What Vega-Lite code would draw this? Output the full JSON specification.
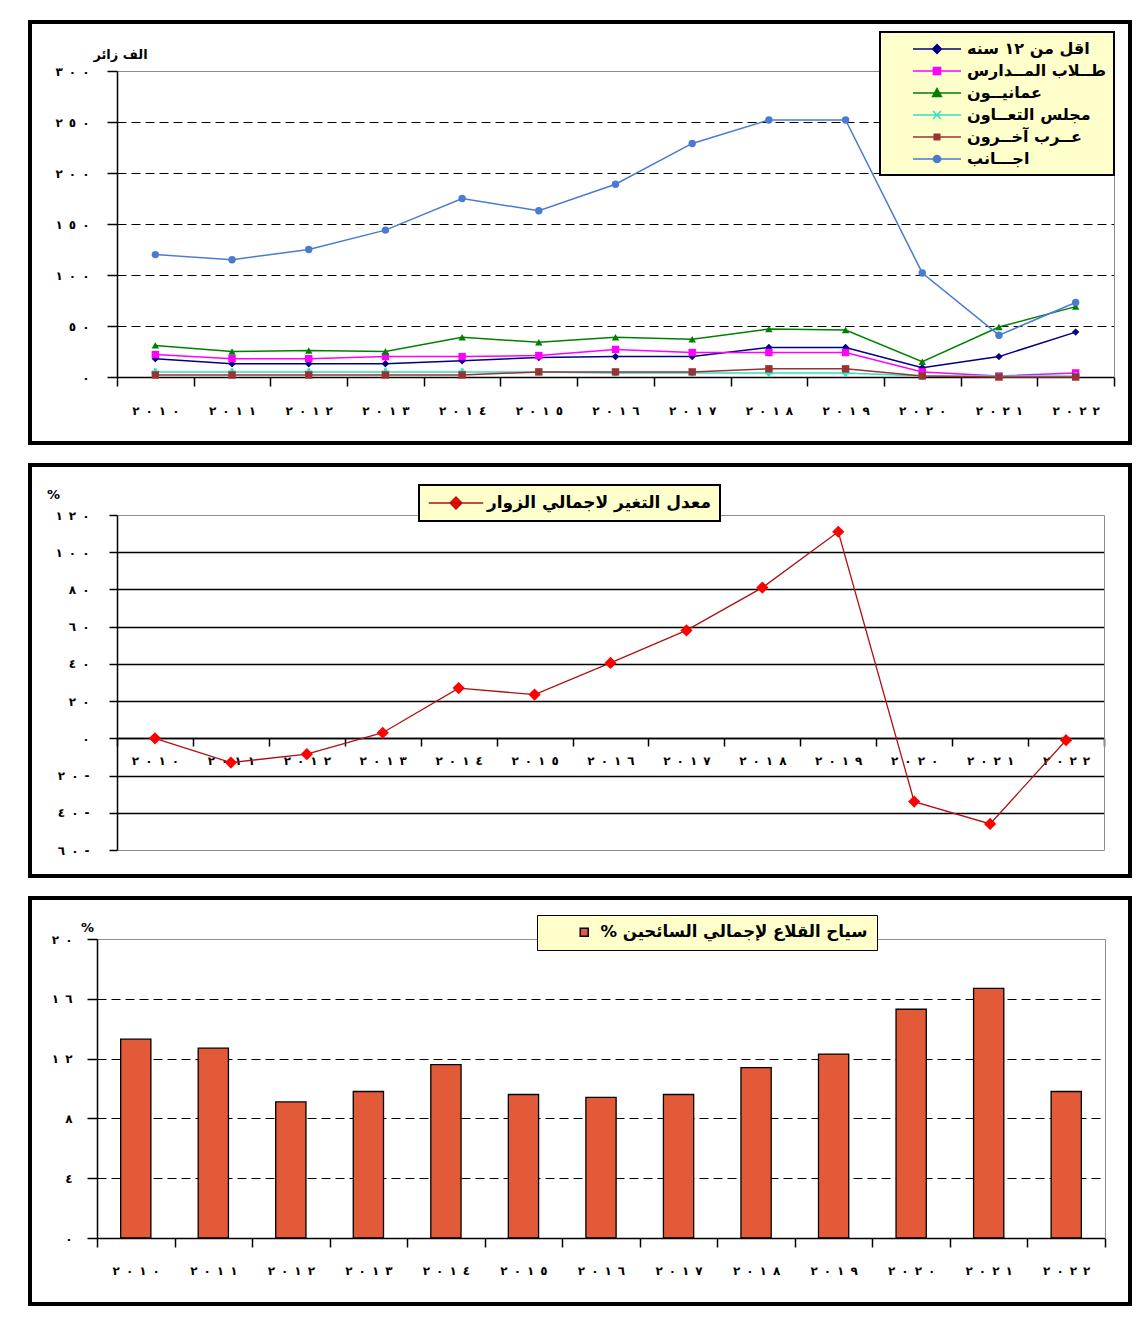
{
  "$schema": "https://vega.github.io/schema/vega-lite/v6.json",
  "padding": {"left": 28, "top": 20, "right": 5, "bottom": 5},
  "background": "white",
  "bounds": "flush",
  "spacing": 22,
  "resolve": {"scale": {"color": "independent"}, "legend": {"color": "independent"}},
  "datasets": {
    "visitors": [
      {"year": "٢٠١٠", "series": "اقل من ١٢ سنه", "value": 18},
      {"year": "٢٠١١", "series": "اقل من ١٢ سنه", "value": 13},
      {"year": "٢٠١٢", "series": "اقل من ١٢ سنه", "value": 13},
      {"year": "٢٠١٣", "series": "اقل من ١٢ سنه", "value": 13},
      {"year": "٢٠١٤", "series": "اقل من ١٢ سنه", "value": 16},
      {"year": "٢٠١٥", "series": "اقل من ١٢ سنه", "value": 19},
      {"year": "٢٠١٦", "series": "اقل من ١٢ سنه", "value": 20},
      {"year": "٢٠١٧", "series": "اقل من ١٢ سنه", "value": 20},
      {"year": "٢٠١٨", "series": "اقل من ١٢ سنه", "value": 29},
      {"year": "٢٠١٩", "series": "اقل من ١٢ سنه", "value": 29},
      {"year": "٢٠٢٠", "series": "اقل من ١٢ سنه", "value": 9},
      {"year": "٢٠٢١", "series": "اقل من ١٢ سنه", "value": 20},
      {"year": "٢٠٢٢", "series": "اقل من ١٢ سنه", "value": 44},
      {"year": "٢٠١٠", "series": "طــلاب المــدارس", "value": 22},
      {"year": "٢٠١١", "series": "طــلاب المــدارس", "value": 18},
      {"year": "٢٠١٢", "series": "طــلاب المــدارس", "value": 18},
      {"year": "٢٠١٣", "series": "طــلاب المــدارس", "value": 20},
      {"year": "٢٠١٤", "series": "طــلاب المــدارس", "value": 20},
      {"year": "٢٠١٥", "series": "طــلاب المــدارس", "value": 21},
      {"year": "٢٠١٦", "series": "طــلاب المــدارس", "value": 27},
      {"year": "٢٠١٧", "series": "طــلاب المــدارس", "value": 24},
      {"year": "٢٠١٨", "series": "طــلاب المــدارس", "value": 24},
      {"year": "٢٠١٩", "series": "طــلاب المــدارس", "value": 24},
      {"year": "٢٠٢٠", "series": "طــلاب المــدارس", "value": 5},
      {"year": "٢٠٢١", "series": "طــلاب المــدارس", "value": 1},
      {"year": "٢٠٢٢", "series": "طــلاب المــدارس", "value": 4},
      {"year": "٢٠١٠", "series": "عمانيــون", "value": 31},
      {"year": "٢٠١١", "series": "عمانيــون", "value": 25},
      {"year": "٢٠١٢", "series": "عمانيــون", "value": 26},
      {"year": "٢٠١٣", "series": "عمانيــون", "value": 25},
      {"year": "٢٠١٤", "series": "عمانيــون", "value": 39},
      {"year": "٢٠١٥", "series": "عمانيــون", "value": 34},
      {"year": "٢٠١٦", "series": "عمانيــون", "value": 39},
      {"year": "٢٠١٧", "series": "عمانيــون", "value": 37},
      {"year": "٢٠١٨", "series": "عمانيــون", "value": 47},
      {"year": "٢٠١٩", "series": "عمانيــون", "value": 46},
      {"year": "٢٠٢٠", "series": "عمانيــون", "value": 15},
      {"year": "٢٠٢١", "series": "عمانيــون", "value": 49},
      {"year": "٢٠٢٢", "series": "عمانيــون", "value": 69},
      {"year": "٢٠١٠", "series": "مجلس التعــاون", "value": 5},
      {"year": "٢٠١١", "series": "مجلس التعــاون", "value": 5},
      {"year": "٢٠١٢", "series": "مجلس التعــاون", "value": 5},
      {"year": "٢٠١٣", "series": "مجلس التعــاون", "value": 5},
      {"year": "٢٠١٤", "series": "مجلس التعــاون", "value": 5},
      {"year": "٢٠١٥", "series": "مجلس التعــاون", "value": 5},
      {"year": "٢٠١٦", "series": "مجلس التعــاون", "value": 4},
      {"year": "٢٠١٧", "series": "مجلس التعــاون", "value": 4},
      {"year": "٢٠١٨", "series": "مجلس التعــاون", "value": 4},
      {"year": "٢٠١٩", "series": "مجلس التعــاون", "value": 4},
      {"year": "٢٠٢٠", "series": "مجلس التعــاون", "value": 1},
      {"year": "٢٠٢١", "series": "مجلس التعــاون", "value": 1},
      {"year": "٢٠٢٢", "series": "مجلس التعــاون", "value": 1},
      {"year": "٢٠١٠", "series": "عــرب آخــرون", "value": 2},
      {"year": "٢٠١١", "series": "عــرب آخــرون", "value": 2},
      {"year": "٢٠١٢", "series": "عــرب آخــرون", "value": 2},
      {"year": "٢٠١٣", "series": "عــرب آخــرون", "value": 2},
      {"year": "٢٠١٤", "series": "عــرب آخــرون", "value": 2},
      {"year": "٢٠١٥", "series": "عــرب آخــرون", "value": 5},
      {"year": "٢٠١٦", "series": "عــرب آخــرون", "value": 5},
      {"year": "٢٠١٧", "series": "عــرب آخــرون", "value": 5},
      {"year": "٢٠١٨", "series": "عــرب آخــرون", "value": 8},
      {"year": "٢٠١٩", "series": "عــرب آخــرون", "value": 8},
      {"year": "٢٠٢٠", "series": "عــرب آخــرون", "value": 1},
      {"year": "٢٠٢١", "series": "عــرب آخــرون", "value": 0},
      {"year": "٢٠٢٢", "series": "عــرب آخــرون", "value": 0},
      {"year": "٢٠١٠", "series": "اجـــانب", "value": 120},
      {"year": "٢٠١١", "series": "اجـــانب", "value": 115},
      {"year": "٢٠١٢", "series": "اجـــانب", "value": 125},
      {"year": "٢٠١٣", "series": "اجـــانب", "value": 144},
      {"year": "٢٠١٤", "series": "اجـــانب", "value": 175},
      {"year": "٢٠١٥", "series": "اجـــانب", "value": 163},
      {"year": "٢٠١٦", "series": "اجـــانب", "value": 189},
      {"year": "٢٠١٧", "series": "اجـــانب", "value": 229},
      {"year": "٢٠١٨", "series": "اجـــانب", "value": 252},
      {"year": "٢٠١٩", "series": "اجـــانب", "value": 252},
      {"year": "٢٠٢٠", "series": "اجـــانب", "value": 102},
      {"year": "٢٠٢١", "series": "اجـــانب", "value": 41},
      {"year": "٢٠٢٢", "series": "اجـــانب", "value": 73}
    ],
    "change": [
      {"year": "٢٠١٠", "series": "معدل التغير لاجمالي الزوار", "change": 0},
      {"year": "٢٠١١", "series": "معدل التغير لاجمالي الزوار", "change": -13},
      {"year": "٢٠١٢", "series": "معدل التغير لاجمالي الزوار", "change": -8.5},
      {"year": "٢٠١٣", "series": "معدل التغير لاجمالي الزوار", "change": 3},
      {"year": "٢٠١٤", "series": "معدل التغير لاجمالي الزوار", "change": 27},
      {"year": "٢٠١٥", "series": "معدل التغير لاجمالي الزوار", "change": 23.5},
      {"year": "٢٠١٦", "series": "معدل التغير لاجمالي الزوار", "change": 40.5},
      {"year": "٢٠١٧", "series": "معدل التغير لاجمالي الزوار", "change": 58},
      {"year": "٢٠١٨", "series": "معدل التغير لاجمالي الزوار", "change": 81},
      {"year": "٢٠١٩", "series": "معدل التغير لاجمالي الزوار", "change": 111},
      {"year": "٢٠٢٠", "series": "معدل التغير لاجمالي الزوار", "change": -34},
      {"year": "٢٠٢١", "series": "معدل التغير لاجمالي الزوار", "change": -46},
      {"year": "٢٠٢٢", "series": "معدل التغير لاجمالي الزوار", "change": -1}
    ],
    "forts": [
      {"year": "٢٠١٠", "series": "سياح القلاع لإجمالي السائحين %‏", "pct": 13.3},
      {"year": "٢٠١١", "series": "سياح القلاع لإجمالي السائحين %‏", "pct": 12.7},
      {"year": "٢٠١٢", "series": "سياح القلاع لإجمالي السائحين %‏", "pct": 9.1},
      {"year": "٢٠١٣", "series": "سياح القلاع لإجمالي السائحين %‏", "pct": 9.8},
      {"year": "٢٠١٤", "series": "سياح القلاع لإجمالي السائحين %‏", "pct": 11.6},
      {"year": "٢٠١٥", "series": "سياح القلاع لإجمالي السائحين %‏", "pct": 9.6},
      {"year": "٢٠١٦", "series": "سياح القلاع لإجمالي السائحين %‏", "pct": 9.4},
      {"year": "٢٠١٧", "series": "سياح القلاع لإجمالي السائحين %‏", "pct": 9.6},
      {"year": "٢٠١٨", "series": "سياح القلاع لإجمالي السائحين %‏", "pct": 11.4},
      {"year": "٢٠١٩", "series": "سياح القلاع لإجمالي السائحين %‏", "pct": 12.3},
      {"year": "٢٠٢٠", "series": "سياح القلاع لإجمالي السائحين %‏", "pct": 15.3},
      {"year": "٢٠٢١", "series": "سياح القلاع لإجمالي السائحين %‏", "pct": 16.7},
      {"year": "٢٠٢٢", "series": "سياح القلاع لإجمالي السائحين %‏", "pct": 9.8}
    ]
  },
  "config": {
    "font": "DejaVu Sans",
    "view": {"stroke": "black", "strokeWidth": 4, "fill": "white"},
    "axis": {
      "labelFont": "DejaVu Sans", "labelFontWeight": "bold", "labelFontSize": 12, "labelColor": "black",
      "domainColor": "black", "domainWidth": 1.5, "tickColor": "black", "tickWidth": 1.5,
      "titleFont": "DejaVu Sans", "titleFontWeight": "bold", "titleColor": "black"
    },
    "legend": {
      "labelFont": "DejaVu Sans", "labelFontWeight": "bold", "labelColor": "black",
      "fillColor": "#FFFFCC", "strokeColor": "black", "labelLimit": 400
    }
  },
  "vconcat": [
    {
      "width": 1100, "height": 421,
      "data": {"name": "visitors"},
      "encoding": {
        "x": {
          "field": "year", "type": "nominal", "bandPosition": 0.5,
          "scale": {"type": "band", "domain": ["٢٠١٠","٢٠١١","٢٠١٢","٢٠١٣","٢٠١٤","٢٠١٥","٢٠١٦","٢٠١٧","٢٠١٨","٢٠١٩","٢٠٢٠","٢٠٢١","٢٠٢٢"], "range": [87, 1084], "paddingInner": 0, "paddingOuter": 0},
          "axis": {"orient": "bottom", "offset": -66, "title": null, "tickBand": "extent", "tickSize": 9, "labelPadding": 19, "labelAngle": 0, "grid": false, "labelExpr": "join(split(datum.label, ''), '\u200e\u2002')"}
        }
      },
      "layer": [
        {
          "mark": {"type": "line", "strokeWidth": 1.5},
          "encoding": {
            "y": {
              "field": "value", "type": "quantitative",
              "scale": {"domain": [0, 300], "range": [355, 49], "nice": false},
              "axis": {
                "orient": "left", "offset": -87, "values": [0, 50, 100, 150, 200, 250, 300],
                "title": "الف زائر", "titleAngle": 0, "titleX": 3, "titleY": 32, "titleAlign": "center", "titleBaseline": "middle", "titleFontSize": 13,
                "tickSize": 10, "labelPadding": 18,
                "grid": true, "gridWidth": 1.2,
                "gridColor": {"condition": {"test": "datum.value === 300", "value": "#8c8c8c"}, "value": "black"},
                "gridDash": {"condition": {"test": "datum.value === 300", "value": []}, "value": [9, 5]},
                "labelExpr": "join(split(replace(replace(replace(replace(replace(replace(replace(replace(replace(replace(toString(abs(datum.value)),regexp('0','g'),'٠'),regexp('1','g'),'١'),regexp('2','g'),'٢'),regexp('3','g'),'٣'),regexp('4','g'),'٤'),regexp('5','g'),'٥'),regexp('6','g'),'٦'),regexp('7','g'),'٧'),regexp('8','g'),'٨'),regexp('9','g'),'٩'),''),'\u200e\u2002')+(datum.value<0?'\u2002-':'')"
              }
            },
            "color": {
              "field": "series", "type": "nominal",
              "scale": {"domain": ["اقل من ١٢ سنه","طــلاب المــدارس","عمانيــون","مجلس التعــاون","عــرب آخــرون","اجـــانب"], "range": ["#000080","#FF00FF","#008000","#33E0C0","#993333","#4A7BD0"]},
              "legend": {
                "orient": "none", "legendX": 850, "legendY": 10, "direction": "vertical", "title": null,
                "padding": 8, "symbolSize": 256, "symbolOffset": 40, "labelOffset": 21, "rowPadding": 5,
                "labelFontSize": 16,
                "encode": {
                  "legend": {"update": {"strokeWidth": {"value": 2}}},
                  "symbols": {"update": {
                    "shape": {"signal": "['M-3,0H3M0,-0.55L0.55,0L0,0.55L-0.55,0Z','M-3,0H3M-0.45,-0.45H0.45V0.45H-0.45Z','M-3,0H3M0,-0.55L0.55,0.45H-0.55Z','M-3,0H3M-0.5,-0.5L0.5,0.5M-0.5,0.5L0.5,-0.5','M-3,0H3M-0.35,-0.35H0.35V0.35H-0.35Z','M-3,0H3M-0.45,0A0.45,0.45,0,1,0,0.45,0A0.45,0.45,0,1,0,-0.45,0Z'][datum.index]"},
                    "fill": {"signal": "['#000080','#FF00FF','#008000','#33E0C0','#993333','#4A7BD0'][datum.index]"},
                    "stroke": {"signal": "['#000080','#FF00FF','#008000','#33E0C0','#993333','#4A7BD0'][datum.index]"},
                    "strokeWidth": {"value": 1.5},
                    "opacity": {"value": 1}
                  }}
                }
              }
            }
          }
        },
        {
          "mark": {"type": "point", "filled": true, "size": 55, "opacity": 1},
          "encoding": {
            "y": {
              "field": "value", "type": "quantitative",
              "axis": {"orient": "right", "offset": -16, "labels": false, "ticks": false, "grid": false, "title": null, "domainColor": "#8c8c8c", "domainWidth": 1}
            },
            "color": {"field": "series", "type": "nominal"},
            "shape": {
              "field": "series", "type": "nominal",
              "scale": {"domain": ["اقل من ١٢ سنه","طــلاب المــدارس","عمانيــون","مجلس التعــاون","عــرب آخــرون","اجـــانب"], "range": ["diamond","square","triangle-up","cross","square","circle"]},
              "legend": null
            }
          }
        }
      ],
      "resolve": {"axis": {"y": "independent"}}
    },
    {
      "width": 1100, "height": 411,
      "data": {"name": "change"},
      "encoding": {
        "x": {
          "field": "year", "type": "nominal", "bandPosition": 0.5,
          "scale": {"type": "band", "domain": ["٢٠١٠","٢٠١١","٢٠١٢","٢٠١٣","٢٠١٤","٢٠١٥","٢٠١٦","٢٠١٧","٢٠١٨","٢٠١٩","٢٠٢٠","٢٠٢١","٢٠٢٢"], "range": [87, 1074], "paddingInner": 0, "paddingOuter": 0},
          "axis": {"orient": "bottom", "offset": -138, "title": null, "tickBand": "extent", "tickSize": 8, "labelPadding": 9, "labelAngle": 0, "grid": false, "labelExpr": "join(split(datum.label, ''), '\u200e\u2002')"}
        }
      },
      "layer": [
        {
          "mark": {"type": "line", "strokeWidth": 1.3},
          "encoding": {
            "y": {
              "field": "change", "type": "quantitative",
              "scale": {"domain": [-60, 120], "range": [385, 50], "nice": false, "zero": false},
              "axis": {
                "orient": "left", "offset": -87, "values": [-60, -40, -20, 0, 20, 40, 60, 80, 100, 120],
                "title": "%", "titleAngle": 0, "titleX": -64, "titleY": 29, "titleAlign": "center", "titleBaseline": "middle", "titleFontSize": 13,
                "tickSize": 8, "labelPadding": 20,
                "grid": true,
                "gridWidth": {"condition": {"test": "datum.value === 120 || datum.value === -60", "value": 1}, "value": 1.4},
                "gridColor": {"condition": {"test": "datum.value === 120 || datum.value === -60", "value": "#8c8c8c"}, "value": "black"},
                "labelExpr": "join(split(replace(replace(replace(replace(replace(replace(replace(replace(replace(replace(toString(abs(datum.value)),regexp('0','g'),'٠'),regexp('1','g'),'١'),regexp('2','g'),'٢'),regexp('3','g'),'٣'),regexp('4','g'),'٤'),regexp('5','g'),'٥'),regexp('6','g'),'٦'),regexp('7','g'),'٧'),regexp('8','g'),'٨'),regexp('9','g'),'٩'),''),'\u200e\u2002')+(datum.value<0?'\u2002-':'')"
              }
            },
            "color": {
              "field": "series", "type": "nominal",
              "scale": {"range": ["#B01010"]},
              "legend": {
                "orient": "none", "legendX": 389, "legendY": 20, "title": null,
                "padding": 9, "symbolSize": 256, "symbolOffset": 19, "labelOffset": 22, "labelFontSize": 17,
                "encode": {
                  "legend": {"update": {"strokeWidth": {"value": 2}}},
                  "symbols": {"update": {
                    "shape": {"value": "M-3.4,0H3.4M0,-0.75L0.75,0L0,0.75L-0.75,0Z"},
                    "fill": {"value": "#FF0000"},
                    "stroke": {"value": "#B01010"},
                    "strokeWidth": {"value": 1.3},
                    "opacity": {"value": 1}
                  }}
                }
              }
            }
          }
        },
        {
          "mark": {"type": "point", "filled": true, "shape": "diamond", "size": 150, "color": "#FF0000", "opacity": 1},
          "encoding": {
            "y": {
              "field": "change", "type": "quantitative",
              "axis": {"orient": "right", "offset": -26, "labels": false, "ticks": false, "grid": false, "title": null, "domainColor": "#8c8c8c", "domainWidth": 1}
            }
          }
        }
      ],
      "resolve": {"axis": {"y": "independent"}}
    },
    {
      "width": 1100, "height": 406,
      "data": {"name": "forts"},
      "encoding": {
        "x": {
          "field": "year", "type": "nominal",
          "scale": {"type": "band", "domain": ["٢٠١٠","٢٠١١","٢٠١٢","٢٠١٣","٢٠١٤","٢٠١٥","٢٠١٦","٢٠١٧","٢٠١٨","٢٠١٩","٢٠٢٠","٢٠٢١","٢٠٢٢"], "range": [67, 1075], "paddingInner": 0, "paddingOuter": 0},
          "axis": {"orient": "bottom", "offset": -66, "title": null, "tickBand": "extent", "tickSize": 9, "labelPadding": 18, "labelAngle": 0, "grid": false, "labelExpr": "join(split(datum.label, ''), '\u200e\u2002')"}
        }
      },
      "layer": [
        {
          "mark": {"type": "bar", "width": {"band": 0.39}, "stroke": "black", "strokeWidth": 1.3},
          "encoding": {
            "y": {
              "field": "pct", "type": "quantitative",
              "scale": {"domain": [0, 20], "range": [340, 41], "nice": false},
              "axis": {
                "orient": "left", "offset": -67, "values": [0, 4, 8, 12, 16, 20],
                "title": "%", "titleAngle": 0, "titleX": -10, "titleY": 29, "titleAlign": "center", "titleBaseline": "middle", "titleFontSize": 13,
                "tickSize": 10, "labelPadding": 15,
                "grid": true, "gridWidth": 1.2,
                "gridColor": {"condition": {"test": "datum.value === 20", "value": "#8c8c8c"}, "value": "black"},
                "gridDash": {"condition": {"test": "datum.value === 20", "value": []}, "value": [9, 5]},
                "labelExpr": "join(split(replace(replace(replace(replace(replace(replace(replace(replace(replace(replace(toString(abs(datum.value)),regexp('0','g'),'٠'),regexp('1','g'),'١'),regexp('2','g'),'٢'),regexp('3','g'),'٣'),regexp('4','g'),'٤'),regexp('5','g'),'٥'),regexp('6','g'),'٦'),regexp('7','g'),'٧'),regexp('8','g'),'٨'),regexp('9','g'),'٩'),''),'\u200e\u2002')+(datum.value<0?'\u2002-':'')"
              }
            },
            "color": {
              "field": "series", "type": "nominal",
              "scale": {"range": ["#E25A38"]},
              "legend": {
                "orient": "none", "legendX": 507, "legendY": 17, "title": null,
                "padding": 9, "symbolSize": 64, "symbolType": "square", "symbolOffset": 30, "labelOffset": 8, "labelFontSize": 16.5,
                "encode": {
                  "legend": {"update": {"strokeWidth": {"value": 2}}},
                  "symbols": {"update": {
                    "fill": {"value": "#A83A30"},
                    "stroke": {"value": "black"},
                    "strokeWidth": {"value": 1},
                    "opacity": {"value": 1}
                  }}
                }
              }
            }
          }
        },
        {
          "mark": {"type": "point", "opacity": 0},
          "encoding": {
            "y": {
              "field": "pct", "type": "quantitative",
              "axis": {"orient": "right", "offset": -25, "labels": false, "ticks": false, "grid": false, "title": null, "domainColor": "#8c8c8c", "domainWidth": 1}
            }
          }
        }
      ],
      "resolve": {"axis": {"y": "independent"}}
    }
  ]
}
